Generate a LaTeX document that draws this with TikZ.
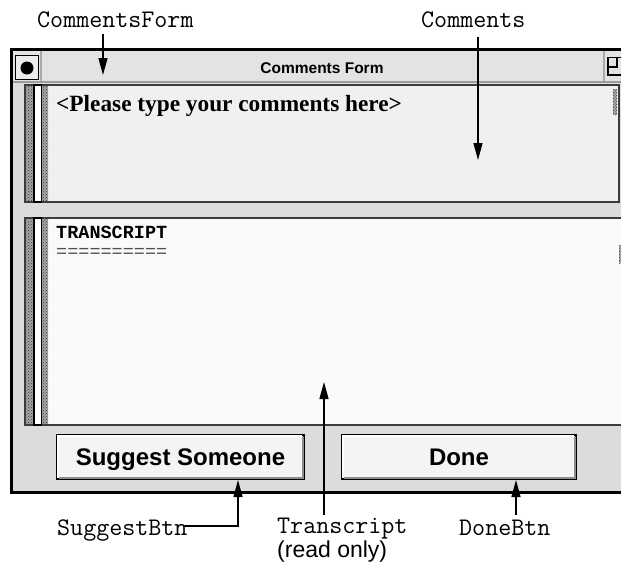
\documentclass[tikz,border=0pt]{standalone}
\usepackage{fontspec}
\setmainfont{Liberation Serif}
\newfontfamily\monof{Liberation Mono}
\newfontfamily\sansf{Liberation Sans}
\usetikzlibrary{arrows.meta,patterns}
\definecolor{winbg}{HTML}{DCDCDC}
\definecolor{titlebg}{HTML}{E3E3E3}
\definecolor{titleshade}{HTML}{9C9C9C}
\definecolor{closebg}{HTML}{ECECEC}
\definecolor{paneA}{HTML}{F0F0F0}
\definecolor{paneB}{HTML}{FAFAFA}
\definecolor{paneborder}{HTML}{3C3C3C}
\definecolor{btnbg}{HTML}{F4F4F4}
\definecolor{bevdark}{HTML}{8C8C8C}
\definecolor{stipbg}{HTML}{A4A4A4}
\definecolor{stipfg}{HTML}{3A3A3A}
\definecolor{eqgray}{HTML}{505050}
\definecolor{sepgray}{HTML}{AAAAAA}
\begin{document}
\begin{tikzpicture}[x=1pt,y=-1pt,
  lbl/.style={font=\ttfamily\fontsize{25.3}{27}\selectfont, inner sep=0pt, anchor=base west},
  arr/.style={-{Triangle[length=17pt,width=9pt]}, line width=1.3pt},
  btn/.style={draw=black, line width=2pt, fill=btnbg, inner sep=0pt,
    text height=17.2pt, text depth=0pt,
    font=\sansf\bfseries\fontsize{24}{26}\selectfont},
  stip/.style={preaction={fill=stipbg}, pattern=crosshatch dots, pattern color=stipfg},
  pane/.style={draw=paneborder, line width=1.6pt}
]
\clip (0,0) rectangle (621,565);
\fill[white] (0,0) rectangle (621,565);

% window
\fill[winbg] (11.5,49.5) rectangle (660,492.5);
\fill[titlebg] (13,51) rectangle (660,82);
\draw[titleshade, line width=2pt] (13,82) -- (660,82);
\draw[line width=3pt] (660,49.5) -- (11.5,49.5) -- (11.5,492.5) -- (660,492.5);
% close box
\draw[line width=1pt, fill=closebg] (15,55.5) rectangle (38,79.5);
\fill (27,68) circle (6.5);
\draw[sepgray, line width=1.2pt] (41,51) -- (41,81);
\draw[sepgray, line width=1.2pt] (604,51) -- (604,81);
% restore icon
\draw[line width=1.2pt] (608,57.5) rectangle (630,75);
\draw[line width=1.2pt] (608,67) -- (617,67) -- (617,57.5);
\node[font=\sansf\bfseries\fontsize{15.5}{17}\selectfont, anchor=base, inner sep=0pt] (title) at (322,73) {Comments Form};

% comments pane
\draw[pane, fill=paneA] (25,85) rectangle (619,202);
\fill[stip] (26,86) rectangle (48,201);
\draw[line width=1.2pt, fill=white] (34,85) rectangle (41.5,202);
\fill[stip] (613,89) rectangle (617,115);
\node[font=\bfseries\fontsize{23.3}{25}\selectfont, anchor=base west, inner sep=0pt] (ph) at (56,111) {<Please type your comments here>};

% transcript pane
\draw[pane, fill=paneB] (25,218) rectangle (660,425);
\fill[stip] (26,219) rectangle (48,424);
\draw[line width=1.2pt, fill=white] (34,218) rectangle (41.5,425);
\fill[stip] (619,245) rectangle (624,263);
\node[font=\monof\bfseries\fontsize{18.5}{20}\selectfont, anchor=base west, inner sep=0pt] (tr) at (56,238) {TRANSCRIPT};
\node[font=\monof\fontsize{18.5}{20}\selectfont, text=eqgray, anchor=base west, inner sep=0pt] (eq) at (56,257) {==========};

% buttons
\node[btn, minimum width=247pt, minimum height=44pt] (sbtn) at (180.5,457) {Suggest Someone};
\node[btn, minimum width=234pt, minimum height=44pt] (dbtn) at (459,457) {Done};
\foreach \b in {sbtn,dbtn}{
  \draw[bevdark, line width=2pt] ([xshift=-2.5pt,yshift=-2.5pt]\b.north east) -- ([xshift=-2.5pt,yshift=2.5pt]\b.south east) -- ([xshift=2.5pt,yshift=2.5pt]\b.south west);
  \draw[white, line width=1.5pt] ([xshift=2.2pt,yshift=2.5pt]\b.south west) -- ([xshift=2.2pt,yshift=-2.2pt]\b.north west) -- ([xshift=-3.5pt,yshift=-2.2pt]\b.north east);
}

% labels
\node[lbl] (lcf) at (37,27) {CommentsForm};
\node[lbl] (lc) at (421,27) {Comments};
\node[lbl] (lsb) at (57,535) {SuggestBtn};
\node[lbl] (lt) at (277,533.5) {Transcript};
\node[font=\sansf\fontsize{23}{25}\selectfont, anchor=base west, inner sep=0pt] (lro) at (277,557) {(read only)};
\node[lbl] (ldb) at (459,535) {DoneBtn};

% arrows
\coordinate (cftip) at (103,75);
\draw[arr] ([yshift=-6pt]lcf.south -| cftip) -- (cftip);
\coordinate (ctip) at (478,160);
\draw[arr] ([yshift=-9pt]lc.south -| ctip) -- (ctip);
\coordinate (ttip) at (324,382);
\draw[arr] ([yshift=3pt]lt.north -| ttip) -- (ttip);
\coordinate (sbc) at (238,526);
\draw[arr] ([xshift=-5pt]lsb.east |- sbc) -| (sbtn.south -| sbc);
\coordinate (dbx) at (516,0);
\draw[arr] ([yshift=4pt]ldb.north -| dbx) -- (dbtn.south -| dbx);
\end{tikzpicture}
\end{document}
